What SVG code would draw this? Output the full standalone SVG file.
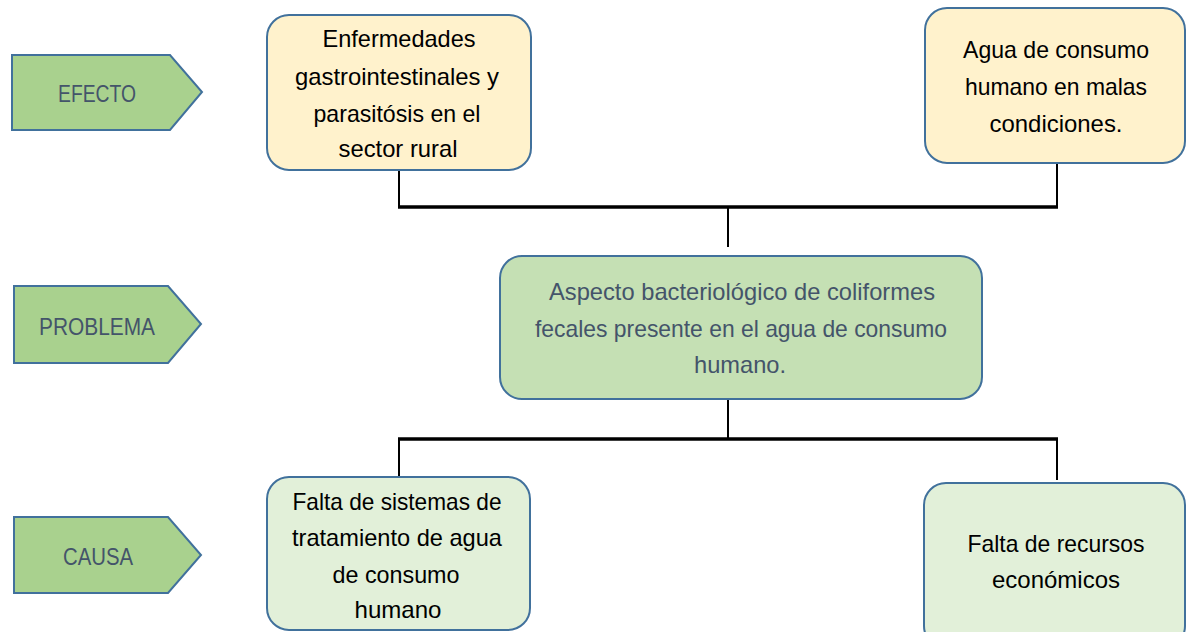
<svg xmlns="http://www.w3.org/2000/svg" width="1187" height="632" viewBox="0 0 1187 632">
<style>
.tag{fill:#A9D18E;stroke:#41719C;stroke-width:2}
.box{stroke:#41719C;stroke-width:2}
.y{fill:#FFF2CC}
.g{fill:#C5E0B4}
.l{fill:#E2F0D9}
text{font-family:"Liberation Sans",Arial,sans-serif;font-size:24px;text-anchor:middle}
.t1{fill:#44546A}
.t2{fill:#000}
.c{stroke:#000;fill:none}
</style>
<rect width="1187" height="632" fill="#fff"/>
<g id="efecto">
<polygon class="tag" points="12,55 170,55 202,92 170,130 12,130"/>
<text class="t1" x="97" y="102" textLength="78" lengthAdjust="spacingAndGlyphs">EFECTO</text>
</g>
<g id="problema">
<polygon class="tag" points="14,286 168,286 201,324 168,363 14,363"/>
<text class="t1" x="97" y="335" textLength="116" lengthAdjust="spacingAndGlyphs">PROBLEMA</text>
</g>
<g id="causa">
<polygon class="tag" points="14,517 168,517 201,555 168,593 14,593"/>
<text class="t1" x="98" y="565" textLength="70" lengthAdjust="spacingAndGlyphs">CAUSA</text>
</g>
<g id="connectors">
<path class="c" stroke-width="2" d="M399,170 V207 M1057,163 V207 M728,207 V247"/>
<path class="c" stroke-width="3.5" d="M398,207 H1058"/>
<path class="c" stroke-width="2" d="M728,399 V439 M399,439 V477 M1057,439 V480"/>
<path class="c" stroke-width="3.5" d="M398,439 H1058"/>
</g>
<g id="efecto1">
<rect class="box y" x="267" y="15" width="264" height="155" rx="22"/>
<text class="t2" x="399" y="47" textLength="153" lengthAdjust="spacingAndGlyphs">Enfermedades</text>
<text class="t2" x="397" y="85" textLength="204" lengthAdjust="spacingAndGlyphs">gastrointestinales y</text>
<text class="t2" x="397" y="122" textLength="167" lengthAdjust="spacingAndGlyphs">parasitósis en el</text>
<text class="t2" x="398" y="157" textLength="119" lengthAdjust="spacingAndGlyphs">sector rural</text>
</g>
<g id="efecto2">
<rect class="box y" x="925" y="8" width="260" height="155" rx="22"/>
<text class="t2" x="1056" y="58" textLength="186" lengthAdjust="spacingAndGlyphs">Agua de consumo</text>
<text class="t2" x="1056" y="95" textLength="182" lengthAdjust="spacingAndGlyphs">humano en malas</text>
<text class="t2" x="1056" y="132" textLength="133" lengthAdjust="spacingAndGlyphs">condiciones.</text>
</g>
<g id="problema1">
<rect class="box g" x="500" y="256" width="482" height="143" rx="22"/>
<text class="t1" x="742" y="300" textLength="386" lengthAdjust="spacingAndGlyphs">Aspecto bacteriológico de coliformes</text>
<text class="t1" x="741" y="337" textLength="412" lengthAdjust="spacingAndGlyphs">fecales presente en el agua de consumo</text>
<text class="t1" x="740" y="373" textLength="92" lengthAdjust="spacingAndGlyphs">humano.</text>
</g>
<g id="causa1">
<rect class="box l" x="267" y="477" width="263" height="153" rx="22"/>
<text class="t2" x="397" y="510" textLength="209" lengthAdjust="spacingAndGlyphs">Falta de sistemas de</text>
<text class="t2" x="397" y="546" textLength="210" lengthAdjust="spacingAndGlyphs">tratamiento de agua</text>
<text class="t2" x="396" y="583" textLength="127" lengthAdjust="spacingAndGlyphs">de consumo</text>
<text class="t2" x="398" y="618" textLength="87" lengthAdjust="spacingAndGlyphs">humano</text>
</g>
<g id="causa2">
<rect class="box l" x="924" y="483" width="261" height="165" rx="22"/>
<text class="t2" x="1056" y="552" textLength="177" lengthAdjust="spacingAndGlyphs">Falta de recursos</text>
<text class="t2" x="1056" y="588" textLength="128" lengthAdjust="spacingAndGlyphs">económicos</text>
</g>
</svg>
